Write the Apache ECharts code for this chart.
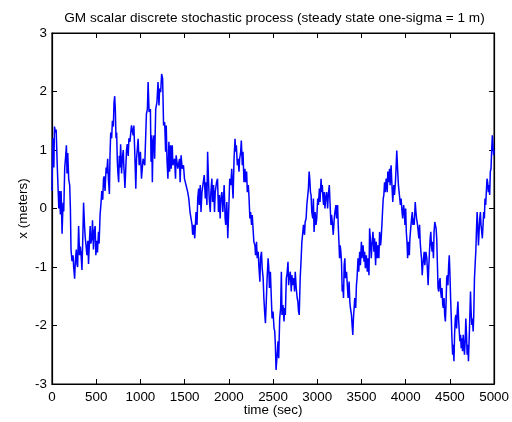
<!DOCTYPE html>
<html>
<head>
<meta charset="utf-8">
<script src="https://cdn.jsdelivr.net/npm/echarts@6/dist/echarts.min.js"></script>
<style>
html,body{margin:0;padding:0;background:#fff;}
#chart{width:512px;height:422px;}
</style>
</head>
<body>
<div id="chart"></div>
<script>
const chartTitle = 'GM scalar discrete stochastic process (steady state one-sigma = 1 m)';
const xAxisName = 'time (sec)';
const yAxisName = 'x (meters)';
const xTickValues = [0, 500, 1000, 1500, 2000, 2500, 3000, 3500, 4000, 4500, 5000];
const yTickValues = [-3, -2, -1, 0, 1, 2, 3];

const timeSec = [
0,9,21,28,39,47,58,65,77,84,
95,103,114,125,133,144,155,163,170,178,
189,200,208,215,226,238,245,256,264,275,
282,290,301,312,320,327,339,350,357,368,
376,383,395,406,413,425,432,439,451,458,
469,477,488,496,507,514,526,533,544,555,
563,574,582,589,600,612,619,630,638,649,
656,664,675,683,694,701,709,716,724,731,
739,746,754,761,769,776,787,795,806,813,
825,832,843,851,862,870,
881,899,918,926,937,948,956,974,986,1000,
1012,1030,1049,1060,1068,1079,1087,1098,1113,1120,
1128,1135,1143,1154,1161,1173,1187,1199,1210,1217,
1229,1240,1251,1255,1262,1274,1285,1292,1300,1311,
1322,1330,1341,1348,1360,1367,1386,1397,1404,1423,
1442,1449,1460,1472,1487,1498,1517,1535,1547,1561,
1573,1584,1591,1603,1614,1629,1640,1648,1659,1666,
1677,1685,1696,1711,1722,1734,1741,1752,1760,1771,
1778,1790,1797,1808,1816,1827,1838,1846,1861,1872,
1883,1891,1902,1909,1921,1932,1947,1958,1965,1977,
1988,
2003,2010,2022,2033,2040,2048,2059,2070,2078,2085,
2096,2104,2115,2122,2134,2141,2152,2160,2171,2182,
2190,2201,2209,2220,2227,2238,2246,2257,2265,2276,
2283,2295,2302,2313,2321,2332,2339,2351,2358,2369,
2377,2388,2396,2407,2414,2425,2433,2444,2452,2459,
2470,2482,2489,2500,2511,2519,2526,2534,2541,2549,
2556,2564,2575,2586,2594,2601,2612,2624,2631,2639,
2650,2657,2669,2676,2683,2695,2706,2713,2725,2736,
2743,2751,2762,2773,2781,2788,2796,2807,2818,2826,
2837,2844,2856,2863,2874,2882,2889,2900,2908,2915,
2923,2930,2938,2949,2956,2964,2975,2986,2994,
3005,3013,3024,3031,3043,3050,3057,3065,3072,3080,
3087,3095,3106,3117,3125,3136,3144,3155,3162,3170,
3181,3192,3200,3211,3218,3230,3237,3245,3252,3259,
3267,3274,3282,3289,3297,3304,3312,3319,3331,3342,
3349,3360,3368,3375,3387,3394,3402,3409,3417,3424,
3435,3443,3450,3461,3469,3480,3488,3499,3506,3518,
3529,3536,3544,3555,3566,3574,3585,3592,3600,3611,
3618,3630,3641,3648,3660,3667,3678,3686,3697,3705,
3716,3723,3731,3738,3746,3753,3761,3768,3779,3791,
3798,3809,3817,3824,3835,3843,3854,3865,3873,3884,
3891,3899,3910,3918,3929,3940,3948,3959,3966,3977,
3985,3992,4000,4007,
4015,4022,4030,4041,4048,4060,4067,4075,4082,4090,
4097,4108,4116,4123,4134,4142,4149,4157,4164,4172,
4179,4187,4194,4202,4209,4217,4228,4239,4247,4254,
4262,4269,4277,4284,4291,4299,4306,4314,4321,4329,
4336,4344,4351,4359,4366,4374,4381,4389,4396,4404,
4411,4419,4426,4434,4441,4449,4456,4464,4471,4478,
4486,4493,4501,4508,4516,4523,4531,4538,4546,4553,
4561,4568,4576,4583,4591,4598,4606,4613,4621,4628,
4636,4643,4651,4658,4665,4673,4680,4688,4695,4703,
4710,4718,4725,4733,4740,4748,4755,4763,4770,4778,
4785,4793,4800,4808,4815,4823,4830,4838,4845,4852,
4860,4867,4875,4882,4890,4897,4905,4912,4920,4927,
4935,4942,4950,4957,4965,4972,4980,4987,4995,5000
];

const xMeters = [
0.3,1.2,0.7,1.4,1.3,1.35,0.8,0.5,0.0,0.3,
-0.1,0.3,-0.43,0.1,-0.05,0.7,0.9,1.08,0.6,0.95,
0.5,0.4,0.0,-0.7,-0.9,-0.8,-1.0,-1.2,-0.9,-0.7,
-0.95,-1.0,-0.3,-0.8,-0.65,-0.75,-1.05,-0.4,0.1,-0.3,
-0.5,-0.6,-0.8,-0.55,-0.95,-0.5,-0.3,-0.6,-0.5,-0.2,
-0.7,-0.4,-0.3,-0.8,-0.55,-0.75,-0.4,-0.6,-0.1,0.1,
0.3,0.15,0.5,0.55,0.3,0.7,0.6,0.85,0.5,0.25,
0.9,1.3,1.2,1.5,1.4,1.8,1.92,1.7,1.2,1.3,
0.8,0.6,0.45,0.9,0.7,1.1,0.6,0.85,1.0,0.7,
0.35,0.6,1.0,1.1,0.9,1.2,
1.14,1.42,1.25,1.42,0.91,0.34,0.85,1.19,0.74,0.97,
0.51,0.85,0.74,1.25,1.62,1.70,2.16,1.65,1.70,0.80,
1.25,0.45,1.14,1.25,0.85,1.70,1.82,2.16,1.76,2.05,
1.99,2.30,2.22,1.93,1.42,1.48,0.97,1.42,0.85,0.51,
1.14,0.63,1.08,0.68,1.08,0.74,0.85,0.51,0.91,0.68,
0.85,0.45,0.91,0.68,0.74,0.51,0.51,0.28,0.17,-0.06,
-0.06,-0.28,-0.45,-0.28,-0.51,-0.06,-0.28,0.17,0.34,0.06,
0.40,-0.06,0.28,0.45,0.57,0.17,0.45,0.06,0.97,0.45,
0.17,-0.06,0.28,0.51,0.11,0.40,-0.06,0.28,0.45,0.51,
-0.06,0.23,-0.17,0.17,0.28,-0.06,0.40,-0.17,-0.28,0.11,
-0.51,
0.17,0.51,0.40,0.68,0.40,0.17,0.85,1.19,0.97,1.08,
0.74,0.85,0.63,0.85,0.97,1.16,0.74,0.97,0.45,0.68,
0.45,0.63,0.28,0.40,0.23,-0.17,-0.06,-0.28,-0.11,-0.40,
-0.57,-0.63,-0.80,-0.57,-0.85,-0.74,-0.97,-1.25,-0.85,-0.74,
-1.02,-1.19,-1.53,-1.82,-1.96,-1.53,-1.19,-0.85,-1.02,-1.36,
-1.08,-1.59,-1.88,-1.76,-2.05,-2.10,-2.33,-2.76,-2.73,-2.44,
-2.27,-2.56,-1.88,-1.70,-1.08,-1.82,-1.65,-1.93,-1.70,-1.82,
-1.19,-1.14,-0.91,-1.31,-1.19,-1.08,-1.42,-1.14,-1.31,-1.19,
-1.42,-1.08,-1.36,-1.53,-1.59,-1.76,-1.82,-1.19,-0.85,-0.57,
-0.40,-0.28,-0.45,-0.23,-0.17,0.06,0.17,0.34,0.63,0.51,
0.28,0.23,-0.06,-0.17,0.17,-0.40,-0.06,-0.28,-0.17,
0.17,0.06,0.34,0.11,0.51,0.28,0.40,0.17,0.06,0.28,
0.00,0.17,0.28,0.00,0.23,0.40,0.11,-0.28,-0.11,-0.23,
-0.45,-0.17,-0.06,0.06,-0.17,0.06,-0.28,-0.57,-0.85,-0.63,
-0.74,-0.91,-1.42,-1.31,-1.53,-0.97,-0.85,-1.19,-1.08,-1.36,
-1.53,-1.25,-1.59,-1.70,-1.82,-1.99,-2.16,-1.88,-1.70,-1.53,
-1.70,-1.31,-1.19,-0.85,-1.08,-0.74,-0.97,-0.57,-0.85,-0.63,
-0.91,-0.74,-1.02,-0.80,-1.08,-0.85,-1.14,-0.34,-0.51,-0.85,
-0.63,-0.40,-0.74,-0.51,-0.97,-0.57,-0.85,-0.63,-0.85,-0.40,
-0.63,-0.51,-0.28,-0.06,0.17,0.23,0.45,0.28,0.51,0.28,
0.63,0.45,0.68,0.40,0.74,0.45,0.11,0.40,0.23,0.45,
0.68,0.99,0.63,0.40,0.23,0.06,0.17,-0.06,-0.17,0.06,
-0.06,-0.28,0.00,-0.40,
-0.57,-0.85,-0.57,-0.80,-0.51,-0.28,-0.17,-0.06,-0.28,-0.17,
-0.28,0.11,-0.06,-0.17,-0.28,-0.40,-0.51,-0.28,-0.57,-0.74,
-0.85,-1.14,-0.97,-0.85,-0.74,-0.97,-0.74,-0.85,-1.08,-1.31,
-0.97,-0.74,-0.51,-0.40,-0.63,-0.74,-0.57,-0.85,-0.40,-0.23,
-0.28,-0.34,-0.51,-0.97,-1.36,-1.42,-1.25,-1.19,-1.42,-1.53,
-1.36,-1.65,-1.70,-1.53,-1.82,-1.93,-1.65,-1.19,-1.14,-1.31,
-0.97,-0.80,-1.14,-1.53,-1.88,-2.22,-2.50,-2.33,-2.61,-2.16,
-1.88,-1.82,-2.05,-1.76,-1.59,-1.88,-2.10,-2.27,-2.16,-2.39,
-2.22,-2.44,-2.16,-2.33,-2.50,-2.27,-1.88,-2.16,-2.50,-2.33,
-2.61,-2.22,-1.88,-1.42,-1.76,-1.99,-1.88,-2.10,-1.82,-1.19,
-0.97,-0.74,-0.40,-0.06,-0.28,-0.63,-0.40,-0.17,-0.06,-0.28,
-0.40,-0.51,-0.28,-0.06,-0.17,0.17,0.06,0.28,0.51,0.45,
0.28,0.40,0.23,0.63,0.68,0.97,1.25,1.08,0.91,1.0
];

const seriesData = timeSec.map((t, i) => [t, xMeters[i]]);

const FONT = 'Liberation Sans, Arial, sans-serif';
const FS = 13.4;
const xMin = xTickValues[0], xMax = xTickValues[xTickValues.length - 1];
const yMin = yTickValues[0], yMax = yTickValues[yTickValues.length - 1];
const xStep = xTickValues[1] - xTickValues[0];
const yStep = yTickValues[1] - yTickValues[0];

const GRID = { left: 52, right: 15, top: 33, bottom: 37 };

function axisBase(showLabel, margin) {
  return {
    axisLine: { show: true, onZero: false, lineStyle: { color: '#000', width: 1.2 } },
    axisTick: { show: true, inside: true, length: 5, lineStyle: { color: '#000', width: 1 } },
    axisLabel: {
      show: showLabel, color: '#000', fontFamily: FONT, fontSize: FS, margin: margin,
      formatter: v => String(v)
    },
    splitLine: { show: false }
  };
}

const chart = echarts.init(document.getElementById('chart'), null, { renderer: 'canvas' });
chart.setOption({
  animation: false,
  backgroundColor: '#fff',
  title: {
    text: chartTitle,
    left: GRID.left + (512 - GRID.left - GRID.right) / 2,
    textAlign: 'center',
    top: 11,
    padding: 0,
    textStyle: { fontFamily: FONT, fontSize: 13.6, fontWeight: 'normal', color: '#000' }
  },
  grid: Object.assign({ show: true, borderColor: '#000', borderWidth: 1.2, backgroundColor: 'transparent' }, GRID),
  xAxis: [
    Object.assign(axisBase(true, 7), {
      type: 'value', min: xMin, max: xMax, interval: xStep, position: 'bottom',
      name: xAxisName, nameLocation: 'middle', nameGap: 20, nameMoveOverlap: false,
      nameTextStyle: { fontFamily: FONT, fontSize: FS, color: '#000' }
    }),
    Object.assign(axisBase(false, 8), {
      type: 'value', min: xMin, max: xMax, interval: xStep, position: 'top'
    })
  ],
  yAxis: [
    Object.assign(axisBase(true, 5), {
      type: 'value', min: yMin, max: yMax, interval: yStep, position: 'left',
      name: yAxisName, nameLocation: 'middle', nameGap: 22, nameMoveOverlap: false,
      nameTextStyle: { fontFamily: FONT, fontSize: FS, color: '#000' }
    }),
    Object.assign(axisBase(false, 8), {
      type: 'value', min: yMin, max: yMax, interval: yStep, position: 'right'
    })
  ],
  series: [{
    type: 'line',
    xAxisIndex: 0,
    yAxisIndex: 0,
    data: seriesData,
    showSymbol: false,
    symbol: 'none',
    lineStyle: { color: '#0000ff', width: 1.5 },
    emphasis: { disabled: true }
  }]
});
</script>
</body>
</html>
